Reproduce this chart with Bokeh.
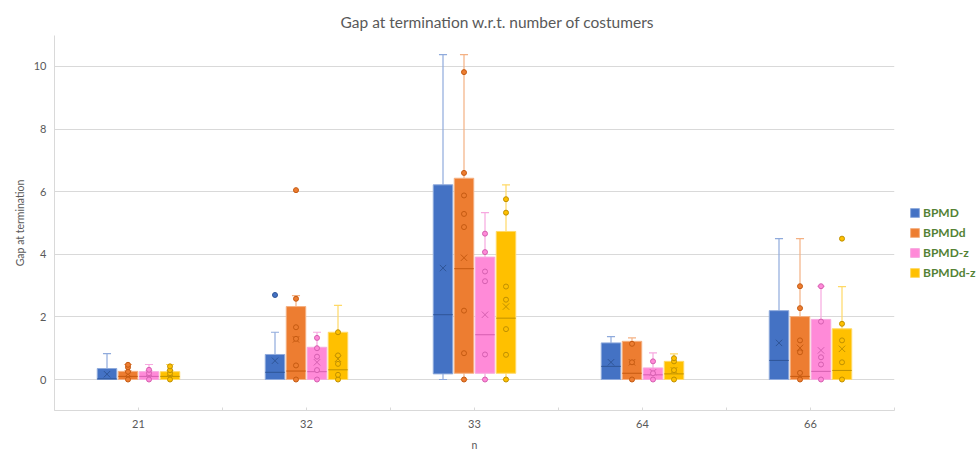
from bokeh.plotting import figure
from bokeh.models import FixedTicker, Legend, LegendItem, Range1d
from bokeh.embed import file_html
from bokeh.resources import INLINE

categories = ["21", "32", "33", "64", "66"]
series_names = ["BPMD", "BPMDd", "BPMD-z", "BPMDd-z"]

# BPMD
bpmd_q1 = [0.0, 0.0, 0.18, 0.0, 0.0]
bpmd_median = [0.02, 0.23, 2.07, 0.42, 0.61]
bpmd_q3 = [0.35, 0.80, 6.22, 1.17, 2.20]
bpmd_mean = [0.17, 0.60, 3.56, 0.55, 1.17]
bpmd_min = [0.0, 0.0, 0.0, 0.0, 0.0]
bpmd_max = [0.83, 1.51, 10.38, 1.37, 4.50]
bpmd_points = [[], [2.70], [], [], []]

# BPMDd
bpmdd_q1 = [0.0, 0.0, 0.20, 0.0, 0.0]
bpmdd_median = [0.10, 0.27, 3.54, 0.20, 0.10]
bpmdd_q3 = [0.26, 2.33, 6.43, 1.22, 2.01]
bpmdd_mean = [0.18, 1.28, 3.89, 0.55, 1.01]
bpmdd_min = [0.0, 0.0, 0.0, 0.0, 0.0]
bpmdd_max = [0.48, 2.68, 10.38, 1.33, 4.50]
bpmdd_points = [[0.0, 0.25, 0.39, 0.47], [0.0, 0.45, 1.30, 1.67, 2.58, 6.05],
                [0.0, 0.84, 2.20, 4.87, 5.29, 5.88, 6.60, 9.82],
                [0.0, 0.55, 1.14], [0.0, 0.21, 0.87, 1.25, 2.28, 2.98]]

# BPMD-z
bpmdz_q1 = [0.0, 0.0, 0.20, 0.0, 0.0]
bpmdz_median = [0.10, 0.25, 1.43, 0.15, 0.26]
bpmdz_q3 = [0.25, 1.03, 3.91, 0.37, 1.92]
bpmdz_mean = [0.20, 0.55, 2.07, 0.23, 0.93]
bpmdz_min = [0.0, 0.0, 0.0, 0.0, 0.0]
bpmdz_max = [0.48, 1.51, 5.33, 0.85, 2.98]
bpmdz_points = [[0.0, 0.20, 0.31], [0.0, 0.30, 0.73, 1.0, 1.33],
                [0.0, 0.80, 3.14, 3.45, 4.07, 4.66],
                [0.0, 0.20, 0.58], [0.0, 0.48, 0.71, 1.85, 2.98]]

# BPMDd-z
bpmddz_q1 = [0.0, 0.0, 0.20, 0.0, 0.0]
bpmddz_median = [0.10, 0.31, 1.96, 0.18, 0.29]
bpmddz_q3 = [0.25, 1.51, 4.73, 0.58, 1.62]
bpmddz_mean = [0.20, 0.66, 2.33, 0.29, 0.98]
bpmddz_min = [0.0, 0.0, 0.0, 0.0, 0.0]
bpmddz_max = [0.48, 2.37, 6.22, 0.82, 2.97]
bpmddz_points = [[0.0, 0.20, 0.30, 0.42], [0.0, 0.15, 0.50, 0.77, 1.51],
                 [0.0, 0.79, 1.61, 2.55, 2.97, 5.33, 5.76],
                 [0.0, 0.30, 0.58, 0.68], [0.0, 0.55, 1.25, 1.78, 4.50]]

y_ticks = [0, 2, 4, 6, 8, 10]

fill_colors = ["#4472C4", "#ED7D31", "#FF8AD8", "#FFC000"]
dark_colors = ["#2F5597", "#C55A11", "#D55FB0", "#BF9000"]
light_colors = ["#8FAADC", "#F4B183", "#F7A8E0", "#FFD966"]

data = [
    (bpmd_q1, bpmd_median, bpmd_q3, bpmd_mean, bpmd_min, bpmd_max, bpmd_points),
    (bpmdd_q1, bpmdd_median, bpmdd_q3, bpmdd_mean, bpmdd_min, bpmdd_max, bpmdd_points),
    (bpmdz_q1, bpmdz_median, bpmdz_q3, bpmdz_mean, bpmdz_min, bpmdz_max, bpmdz_points),
    (bpmddz_q1, bpmddz_median, bpmddz_q3, bpmddz_mean, bpmddz_min, bpmddz_max, bpmddz_points),
]

FONT = "Lato"
GRAY = "#595959"

p = figure(frame_width=840, frame_height=375, output_backend="svg", toolbar_location=None,
           x_range=Range1d(-0.5, len(categories) - 0.5), y_range=Range1d(-0.99, 10.99),
           min_border_left=54, min_border_right=0, min_border_top=35, min_border_bottom=43,
           title="Gap at termination w.r.t. number of costumers")
p.outline_line_color = None
p.title.align = "left"
p.title.offset = 286
p.title.text_font = FONT
p.title.text_font_size = "15.5px"
p.title.text_font_style = "normal"
p.title.text_color = GRAY

p.xgrid.grid_line_color = None
p.ygrid.grid_line_color = "#D9D9D9"
p.yaxis.ticker = FixedTicker(ticks=y_ticks)
p.xaxis.ticker = FixedTicker(ticks=list(range(len(categories))),
                             minor_ticks=[i + 0.5 for i in range(-1, len(categories))])
p.xaxis.major_label_overrides = {i: c for i, c in enumerate(categories)}
for ax in (p.xaxis[0], p.yaxis[0]):
    ax.axis_line_color = "#D9D9D9"
    ax.major_label_text_font = FONT
    ax.major_label_text_font_size = "11px"
    ax.major_label_text_color = GRAY
    ax.axis_label_text_font = FONT
    ax.axis_label_text_font_size = "10.5px"
    ax.axis_label_text_font_style = "normal"
    ax.axis_label_text_color = GRAY
p.yaxis.major_tick_line_color = None
p.yaxis.minor_tick_line_color = None
p.yaxis.major_tick_out = 0
p.yaxis.major_tick_in = 0
p.yaxis.minor_tick_out = 0
p.yaxis.minor_tick_in = 0
p.yaxis.major_label_standoff = 8
p.yaxis.axis_label = "Gap at termination"
p.yaxis.axis_label_standoff = 5
p.xaxis.major_tick_line_color = "#D9D9D9"
p.xaxis.major_tick_out = 0
p.xaxis.major_tick_in = 3
p.xaxis.minor_tick_line_color = "#D9D9D9"
p.xaxis.minor_tick_out = 0
p.xaxis.minor_tick_in = 3
p.xaxis.major_label_standoff = 9
p.xaxis.axis_label = "n"
p.xaxis.axis_label_standoff = 8

box_w = 0.116
step = 0.125
cap = 0.024
legend_items = []
for i, (q1, med, q3, mean, lo, hi, pts) in enumerate(data):
    off = (i - 1.5) * step
    xs = [k + off for k in range(len(categories))]
    lc = light_colors[i]
    dc = dark_colors[i]
    # whiskers
    p.segment(xs, q3, xs, hi, line_color=lc, line_width=1.2)
    p.segment(xs, lo, xs, q1, line_color=lc, line_width=1.2)
    p.segment([x - cap for x in xs], hi, [x + cap for x in xs], hi, line_color=lc, line_width=1.2)
    p.segment([x - cap for x in xs], lo, [x + cap for x in xs], lo, line_color=lc, line_width=1.2)
    # boxes
    r = p.vbar(x=xs, width=box_w, bottom=q1, top=q3, fill_color=fill_colors[i],
               line_color=lc, line_width=1)
    legend_items.append(LegendItem(label=series_names[i], renderers=[r]))
    # median
    p.segment([x - box_w / 2 for x in xs], med, [x + box_w / 2 for x in xs], med,
              line_color=dc, line_width=1)
    # mean
    p.scatter(xs, mean, marker="x", size=9, line_color=dc, line_width=1)
    # points
    px, py = [], []
    for k, vals in enumerate(pts):
        for v in vals:
            px.append(xs[k])
            py.append(v)
    p.scatter(px, py, marker="circle", size=5, fill_color=fill_colors[i],
              line_color=dc, line_width=1)

legend = Legend(items=legend_items, location=(15, 130), orientation="vertical",
                glyph_width=11, glyph_height=11, label_height=11, spacing=5,
                label_standoff=3, padding=0, margin=0,
                border_line_color=None, background_fill_alpha=0,
                label_text_font=FONT, label_text_font_size="12px",
                label_text_font_style="bold", label_text_color="#548235")
p.add_layout(legend, "right")

open("out.html", "w").write(file_html(p, INLINE))
